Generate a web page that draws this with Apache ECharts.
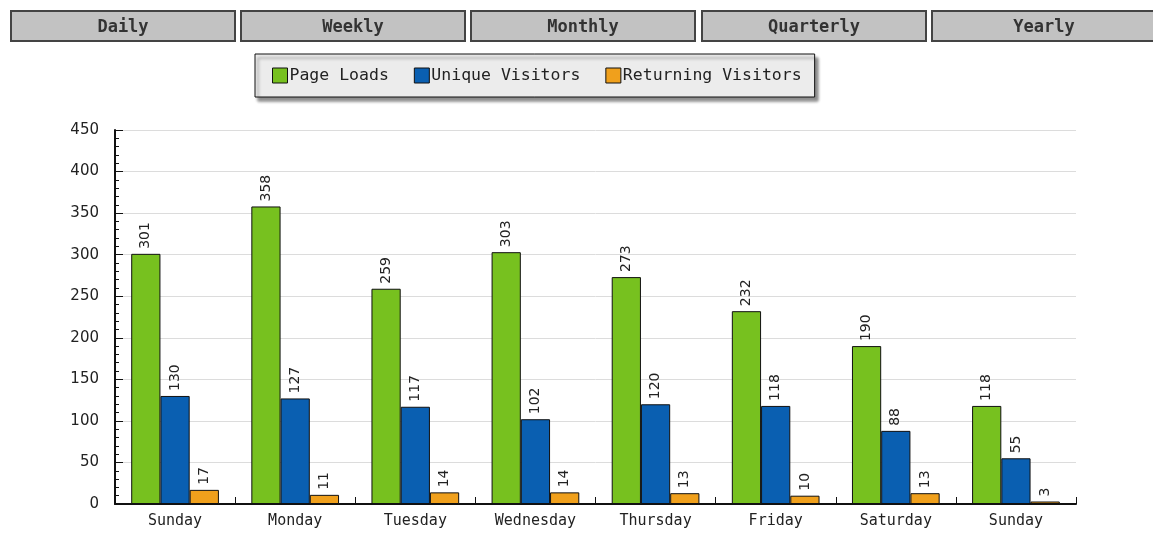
<!DOCTYPE html>
<html>
<head>
<meta charset="utf-8">
<script src="https://cdn.jsdelivr.net/npm/echarts@6/dist/echarts.min.js"></script>
<style>
    body { margin: 0; background: #fff; }
    #tabs { position: absolute; left: 0; top: 0; width: 1153px; height: 50px; z-index: 2; }
    .tab {
        position: absolute; top: 10px; height: 28px; width: 222px;
        background: #c2c2c2; border: 2px solid #444;
        font: bold 17px "DejaVu Sans Mono", monospace; color: #333;
        text-align: center; line-height: 28px;
    }
    #chart { position: absolute; left: 0; top: 0; width: 1153px; height: 533px; }
</style>
</head>
<body>
<div id="tabs"></div>
<div id="chart"></div>
<script>
// 顶部按钮
let tab_names = ['Daily', 'Weekly', 'Monthly', 'Quarterly', 'Yearly']
let tab_left = [10, 240, 470, 701, 931]

// 数据
let days = ['Sunday', 'Monday', 'Tuesday', 'Wednesday', 'Thursday', 'Friday', 'Saturday', 'Sunday']
let page_loads = [301, 358, 259, 303, 273, 232, 190, 118]
let unique_visitors = [130, 127, 117, 102, 120, 118, 88, 55]
let returning_visitors = [17, 11, 14, 14, 13, 10, 13, 3]
let y_ticks = [0, 50, 100, 150, 200, 250, 300, 350, 400, 450]

let tabs = document.getElementById('tabs')
tab_names.forEach(function (name, i) {
    let d = document.createElement('div')
    d.className = 'tab'
    d.style.left = tab_left[i] + 'px'
    d.textContent = name
    tabs.appendChild(d)
})

function make_series(name, data, color) {
    return {
        name: name,
        type: 'bar',
        data: data,
        barGap: '0%',
        barCategoryGap: '27%',
        itemStyle: {
            color: color,
            borderColor: '#111',
            borderWidth: 1
        },
        label: {
            show: true,
            position: 'top',
            rotate: 90,
            align: 'left',
            verticalAlign: 'middle',
            distance: 5,
            fontFamily: 'DejaVu Sans',
            fontSize: 14,
            color: '#222'
        }
    }
}

let chart = echarts.init(document.getElementById('chart'))
chart.setOption({
    animation: false,
    legend: {
        left: 255,
        top: 54,
        padding: [13, 13, 13, 17],
        itemGap: 25,
        itemWidth: 15,
        itemHeight: 15,
        icon: 'rect',
        backgroundColor: '#ececec',
        borderColor: '#111',
        borderWidth: 1,
        shadowColor: 'rgba(0,0,0,0.45)',
        shadowBlur: 3,
        shadowOffsetX: 3,
        shadowOffsetY: 4,
        textStyle: {
            fontFamily: 'DejaVu Sans Mono',
            fontSize: 16.5,
            color: '#222',
            padding: [0, 0, 0, -3]
        },
        itemStyle: { borderColor: '#111', borderWidth: 1 },
        data: ['Page Loads', 'Unique Visitors', 'Returning Visitors']
    },
    grid: {
        left: 115,
        right: 77,
        top: 130,
        bottom: 29
    },
    xAxis: {
        type: 'category',
        data: days,
        axisLine: { lineStyle: { color: '#111', width: 2 } },
        axisTick: { show: true, inside: true, length: 7, lineStyle: { color: '#111' } },
        axisLabel: {
            fontFamily: 'DejaVu Sans Mono',
            fontSize: 15,
            color: '#222',
            margin: 10
        }
    },
    yAxis: {
        type: 'value',
        min: y_ticks[0],
        max: y_ticks[y_ticks.length - 1],
        interval: 50,
        axisLine: { show: true, lineStyle: { color: '#111', width: 2 } },
        axisTick: { show: true, inside: true, length: 8, lineStyle: { color: '#111' } },
        minorTick: { show: true, splitNumber: 5, length: 4, lineStyle: { color: '#111' } },
        splitLine: { lineStyle: { color: '#dcdcdc', width: 1 } },
        axisLabel: {
            fontFamily: 'DejaVu Sans',
            fontSize: 15,
            color: '#222',
            margin: 16
        }
    },
    series: [
        make_series('Page Loads', page_loads, '#77c11f'),
        make_series('Unique Visitors', unique_visitors, '#0a5fb1'),
        make_series('Returning Visitors', returning_visitors, '#f0a01c')
    ]
})
</script>
</body>
</html>
